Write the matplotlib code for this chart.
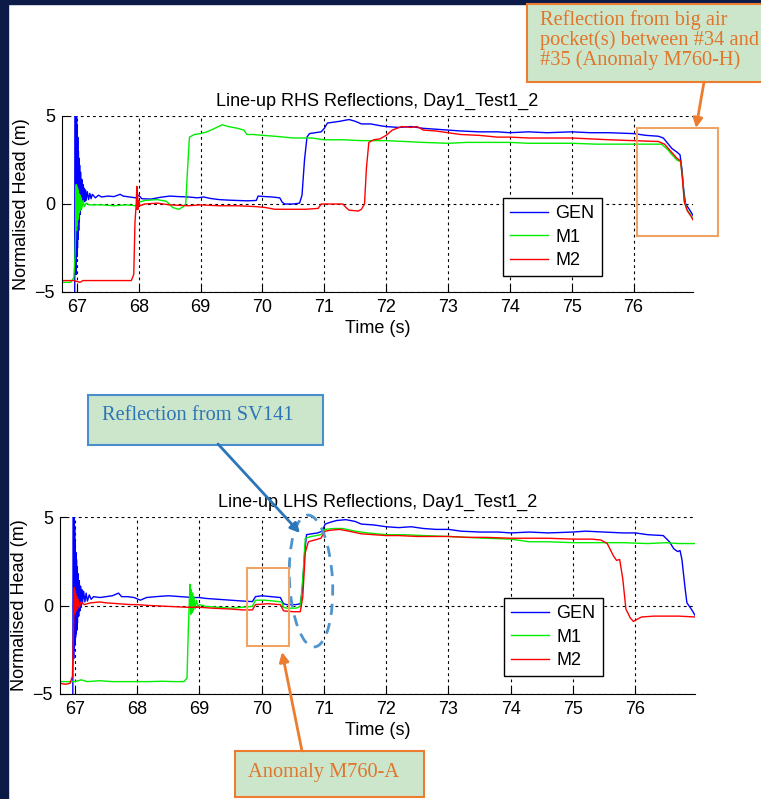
import matplotlib
matplotlib.use("Agg")
import matplotlib.pyplot as plt
from matplotlib.patches import Rectangle, Ellipse

plt.rcParams["font.family"] = ["Liberation Sans", "DejaVu Sans"]

# ---- RHS (top panel) ----
gen_rhs_t = [66.965, 66.975, 66.98, 66.985, 66.99, 66.995, 67.0, 67.005, 67.01, 67.015, 67.02, 67.025,
             67.03, 67.035, 67.04, 67.045, 67.05, 67.06, 67.07, 67.08, 67.09, 67.1, 67.11, 67.12, 67.13,
             67.14, 67.15, 67.17, 67.19, 67.21, 67.23, 67.25, 67.3, 67.35, 67.4, 67.5, 67.6, 67.7, 67.75,
             67.85, 67.95, 68.0, 68.05, 68.2, 68.35, 68.5, 68.65, 68.8, 68.95, 69.05, 69.15, 69.3, 69.45,
             69.6, 69.75, 69.9, 69.93, 70.05, 70.15, 70.28, 70.32, 70.36, 70.5, 70.6, 70.64, 70.68, 70.72,
             70.76, 70.85, 70.95, 71.0, 71.05, 71.15, 71.25, 71.4, 71.5, 71.6, 71.75, 71.9, 72.0, 72.2,
             72.4, 72.6, 72.8, 73.0, 73.2, 73.5, 73.8, 74.0, 74.3, 74.6, 75.0, 75.3, 75.6, 76.0, 76.2,
             76.4, 76.48, 76.55, 76.62, 76.7, 76.75, 76.78, 76.81, 76.84, 76.9, 76.96]
gen_rhs_v = [-6, 5.5, -3.5, 5.5, -4, 5, -3, 4.5, -2.5, 3.8, -2, 3, -1.5, 2.6, -1, 2.2, -0.6, 1.8, -0.3,
             1.4, -0.1, 1.1, 0.1, 0.9, 0.15, 0.8, 0.2, 0.7, 0.25, 0.6, 0.3, 0.55, 0.35, 0.5, 0.4, 0.45,
             0.42, 0.55, 0.45, 0.4, 0.35, 0.5, 0.3, 0.28, 0.38, 0.45, 0.42, 0.4, 0.35, 0.4, 0.32, 0.25,
             0.22, 0.2, 0.18, 0.2, 0.45, 0.42, 0.4, 0.35, 0.1, 0.0, 0.0, 0.05, 0.5, 2.5, 3.8, 4.0, 4.05,
             4.1, 4.3, 4.6, 4.65, 4.7, 4.8, 4.7, 4.55, 4.55, 4.45, 4.4, 4.35, 4.4, 4.3, 4.25, 4.2, 4.15,
             4.1, 4.1, 4.05, 4.1, 4.05, 4.1, 4.05, 4.05, 4.0, 3.9, 3.85, 3.75, 3.45, 3.15, 2.95, 2.8,
             2.0, 0.8, 0.0, -0.3, -0.65]

m1_rhs_t = [66.76, 66.9, 66.95, 66.97, 66.985, 66.99, 66.995, 67.0, 67.005, 67.01, 67.015, 67.02, 67.025,
            67.03, 67.04, 67.05, 67.06, 67.07, 67.08, 67.1, 67.12, 67.15, 67.2, 67.4, 67.6, 67.8, 67.95,
            68.0, 68.1, 68.3, 68.45, 68.55, 68.65, 68.72, 68.76, 68.79, 68.82, 68.9, 69.0, 69.1, 69.2,
            69.35, 69.45, 69.6, 69.7, 69.75, 69.85, 70.0, 70.2, 70.5, 70.8, 71.0, 71.3, 71.6, 72.0, 72.3,
            72.6, 73.0, 73.3, 73.7, 74.0, 74.3, 74.7, 75.0, 75.4, 75.8, 76.0, 76.45, 76.55, 76.62, 76.7,
            76.76, 76.79, 76.82, 76.86, 76.92, 76.96]
m1_rhs_v = [-4.45, -4.45, -4.2, -3.0, -1.0, 1.1, -1.5, 1.0, -1.2, 0.9, -0.9, 0.8, -0.7, 0.6, -0.5, 0.5,
            -0.35, 0.35, -0.25, 0.2, -0.15, 0.05, -0.05, -0.05, -0.1, -0.05, -0.1, 0.1, 0.2, 0.25, 0.15,
            -0.2, -0.3, -0.15, 0.0, 2.0, 3.8, 3.95, 4.0, 4.1, 4.25, 4.5, 4.4, 4.3, 4.2, 3.95, 3.95, 3.9,
            3.85, 3.75, 3.75, 3.65, 3.65, 3.6, 3.6, 3.55, 3.5, 3.45, 3.5, 3.5, 3.5, 3.45, 3.45, 3.45,
            3.4, 3.4, 3.4, 3.4, 3.1, 2.8, 2.5, 2.4, 1.5, 0.2, -0.3, -0.6, -0.85]

m2_rhs_t = [66.76, 66.95, 67.05, 67.1, 67.5, 67.88, 67.92, 67.94, 67.96, 67.97, 67.975, 67.98, 67.99,
            68.0, 68.02, 68.1, 68.3, 68.5, 68.8, 69.0, 69.3, 69.6, 69.9, 70.05, 70.2, 70.5, 70.7, 70.9,
            70.95, 71.1, 71.3, 71.35, 71.4, 71.55, 71.6, 71.65, 71.68, 71.72, 71.8, 71.9, 72.0, 72.1,
            72.25, 72.4, 72.5, 72.6, 72.8, 73.0, 73.2, 73.5, 73.8, 74.0, 74.3, 74.6, 75.0, 75.3, 75.6,
            76.0, 76.4, 76.5, 76.6, 76.7, 76.76, 76.79, 76.82, 76.87, 76.93, 76.96]
m2_rhs_v = [-4.35, -4.35, -4.45, -4.35, -4.35, -4.35, -4.0, -1.0, 0.0, 1.0, -0.3, 0.6, -0.3, 0.2, -0.1,
            0.0, 0.05, -0.05, -0.1, -0.05, -0.1, -0.1, -0.15, -0.2, -0.3, -0.3, -0.3, -0.25, 0.0, 0.0,
            0.0, -0.2, -0.35, -0.4, -0.3, 0.0, 2.0, 3.5, 3.65, 3.7, 3.9, 4.2, 4.4, 4.35, 4.4, 4.2, 4.15,
            4.05, 3.95, 3.9, 3.8, 3.8, 3.75, 3.75, 3.75, 3.7, 3.65, 3.6, 3.55, 3.4, 3.0, 2.6, 2.45, 1.4,
            0.1, -0.4, -0.7, -0.9]

# ---- LHS (bottom panel) ----
gen_lhs_t = [66.965, 66.975, 66.98, 66.985, 66.99, 66.995, 67.0, 67.005, 67.01, 67.015, 67.02, 67.025,
             67.03, 67.035, 67.04, 67.05, 67.06, 67.07, 67.08, 67.09, 67.1, 67.11, 67.12, 67.14, 67.16,
             67.18, 67.2, 67.23, 67.26, 67.3, 67.4, 67.5, 67.6, 67.7, 67.75, 67.85, 67.95, 68.05, 68.15,
             68.3, 68.5, 68.7, 68.9, 69.0, 69.1, 69.3, 69.5, 69.7, 69.85, 69.9, 70.0, 70.15, 70.3, 70.35,
             70.4, 70.55, 70.62, 70.65, 70.69, 70.72, 70.8, 70.9, 70.97, 71.02, 71.1, 71.2, 71.35, 71.5,
             71.6, 71.8, 72.0, 72.2, 72.4, 72.6, 72.8, 73.0, 73.2, 73.5, 73.8, 74.0, 74.3, 74.6, 75.0,
             75.2, 75.5, 75.8, 76.0, 76.2, 76.45, 76.55, 76.62, 76.68, 76.72, 76.75, 76.8, 76.83, 76.9,
             76.96]
gen_lhs_v = [-6, 5.5, -3, 5.2, -2.5, 4.5, -2.2, 3.6, -1.8, 3.0, -1.6, 2.6, -1.4, 2.2, -1.0, 1.8, -0.6,
             1.4, -0.3, 1.1, -0.1, 0.9, 0.1, 0.8, 0.2, 0.7, 0.25, 0.6, 0.35, 0.5, 0.45, 0.5, 0.55, 0.7,
             0.5, 0.5, 0.45, 0.3, 0.45, 0.5, 0.55, 0.5, 0.45, 0.45, 0.4, 0.35, 0.3, 0.25, 0.22, 0.5,
             0.55, 0.5, 0.45, 0.1, 0.05, 0.05, 0.1, 0.8, 3.0, 4.0, 4.05, 4.1, 4.2, 4.6, 4.7, 4.8, 4.85,
             4.75, 4.6, 4.55, 4.45, 4.4, 4.45, 4.35, 4.3, 4.3, 4.2, 4.15, 4.15, 4.1, 4.15, 4.1, 4.15,
             4.2, 4.15, 4.1, 4.1, 4.0, 3.95, 3.6, 3.2, 3.05, 3.1, 2.6, 1.0, 0.15, -0.2, -0.55]

m1_lhs_t = [66.76, 67.0, 67.1, 67.2, 67.4, 67.6, 67.8, 68.0, 68.2, 68.4, 68.6, 68.75, 68.8, 68.82, 68.84,
            68.85, 68.86, 68.87, 68.88, 68.89, 68.9, 68.91, 68.93, 68.95, 68.98, 69.0, 69.1, 69.3, 69.5,
            69.7, 69.85, 69.9, 70.05, 70.2, 70.32, 70.35, 70.4, 70.55, 70.62, 70.66, 70.7, 70.8, 70.95,
            71.02, 71.15, 71.3, 71.5, 71.7, 72.0, 72.3, 72.6, 73.0, 73.3, 73.6, 74.0, 74.3, 74.6, 75.0,
            75.4, 75.8, 76.2, 76.5, 76.7, 76.96]
m1_lhs_v = [-4.3, -4.3, -4.2, -4.3, -4.25, -4.3, -4.3, -4.3, -4.3, -4.28, -4.3, -4.3, -4.1, -1.5, 0.5,
            1.2, -0.5, 0.9, -0.4, 0.7, -0.3, 0.5, -0.2, 0.3, -0.1, 0.05, -0.05, -0.1, -0.15, -0.1, -0.05,
            0.3, 0.3, 0.25, 0.2, -0.1, -0.15, -0.15, -0.05, 1.5, 3.8, 3.9, 4.0, 4.3, 4.35, 4.35, 4.2,
            4.1, 4.0, 4.0, 3.95, 3.9, 3.85, 3.8, 3.75, 3.6, 3.6, 3.55, 3.55, 3.55, 3.5, 3.55, 3.5, 3.5]

m2_lhs_t = [66.76, 66.85, 66.92, 66.96, 66.98, 66.99, 66.995, 67.0, 67.005, 67.01, 67.02, 67.03, 67.04,
            67.05, 67.07, 67.1, 67.15, 67.25, 67.4, 67.5, 67.7, 67.9, 68.0, 68.2, 68.5, 68.8, 69.0, 69.2,
            69.5, 69.7, 69.85, 69.9, 70.1, 70.3, 70.35, 70.5, 70.62, 70.66, 70.7, 70.75, 70.85, 70.95,
            71.02, 71.1, 71.25, 71.4, 71.6, 71.8, 72.0, 72.2, 72.5, 72.8, 73.0, 73.3, 73.6, 74.0, 74.3,
            74.6, 75.0, 75.3, 75.45, 75.55, 75.65, 75.7, 75.75, 75.8, 75.85, 75.92, 75.97, 76.02, 76.1,
            76.3, 76.5, 76.7, 76.96]
m2_lhs_v = [-4.4, -4.45, -4.4, -4.0, -1.0, 1.0, -0.5, 0.8, -0.4, 0.7, -0.3, 0.5, -0.2, 0.35, -0.1, 0.2,
            0.05, 0.15, 0.2, 0.15, 0.1, 0.05, 0.05, 0.0, -0.05, -0.1, -0.1, -0.15, -0.2, -0.25, -0.25,
            0.05, 0.1, 0.05, -0.3, -0.35, -0.35, 0.5, 3.0, 3.6, 3.7, 3.8, 4.2, 4.25, 4.3, 4.2, 4.05,
            4.0, 3.95, 3.95, 3.9, 3.9, 3.9, 3.85, 3.85, 3.8, 3.8, 3.8, 3.75, 3.75, 3.7, 3.5, 2.8, 2.55,
            2.6, 1.5, -0.2, -0.7, -0.9, -0.8, -0.65, -0.6, -0.6, -0.6, -0.65]

x_ticks = [67, 68, 69, 70, 71, 72, 73, 74, 75, 76]
y_ticks = [-5, 0, 5]
series_names = ["GEN", "M1", "M2"]
series_colors = ["#0000ff", "#00ee00", "#ff0000"]

W, H = 761, 799
fig = plt.figure(figsize=(W / 100, H / 100), dpi=100)
fig.patch.set_facecolor("white")
# slide border (navy)
fig.add_artist(Rectangle((0, 0), 8 / W, 1, transform=fig.transFigure, color="#0b1a47", zorder=-5))
fig.add_artist(Rectangle((0, 1 - 4 / H), 1, 4 / H, transform=fig.transFigure, color="#0b1a47", zorder=-5))


def panel(rect, title, data, leg_anchor):
    ax = fig.add_axes(rect)
    for (t, v), name, c in zip(data, series_names, series_colors):
        ax.plot(t, v, color=c, lw=1.0, label=name)
    ax.set_xlim(66.76, 76.96)
    ax.set_ylim(-5, 5)
    ax.set_xticks(x_ticks)
    ax.set_yticks(y_ticks)
    ax.tick_params(direction="in", length=5, labelsize=13, pad=5, width=0.8)
    ax.spines[["top", "right"]].set_visible(False)
    ax.grid(True, color="k", linestyle=(0, (2.5, 3)), lw=0.8)
    ax.set_axisbelow(True)
    ax.set_title(title, fontsize=13, pad=7)
    ax.set_xlabel("Time (s)", fontsize=13, labelpad=3)
    ax.set_ylabel("Normalised Head (m)", fontsize=13, labelpad=3)
    leg = ax.legend(loc="upper left", bbox_to_anchor=leg_anchor, fontsize=13, fancybox=False,
                    framealpha=1, edgecolor="k", borderpad=0.4, handlelength=2.1,
                    handletextpad=0.4, labelspacing=0.35, borderaxespad=0)
    leg.get_frame().set_linewidth(1.0)
    return ax


panel([62 / W, 1 - 292 / H, 631 / W, 176 / H], "Line-up RHS Reflections, Day1_Test1_2",
      [(gen_rhs_t, gen_rhs_v), (m1_rhs_t, m1_rhs_v), (m2_rhs_t, m2_rhs_v)], (0.699, 0.534))
panel([60 / W, 1 - 694 / H, 635 / W, 177 / H], "Line-up LHS Reflections, Day1_Test1_2",
      [(gen_lhs_t, gen_lhs_v), (m1_lhs_t, m1_lhs_v), (m2_lhs_t, m2_lhs_v)], (0.699, 0.542))

# overlay for callouts, in pixel coordinates
ov = fig.add_axes([0, 0, 1, 1], zorder=10)
ov.set_xlim(0, W)
ov.set_ylim(H, 0)
ov.axis("off")

box_face = "#cce6cc"
orange = "#ec7c30"
orange_txt = "#e0762a"
blue = "#2e75b6"
serif = ["Liberation Serif", "DejaVu Serif"]
fs_note = 14.7

# top callout
ov.add_patch(Rectangle((527, 4), 240, 78, facecolor=box_face, edgecolor=orange, lw=1.5, clip_on=False))
ov.text(540, 40, "Reflection from big air\npocket(s) between #34 and\n#35 (Anomaly M760-H)",
        color=orange_txt, fontsize=fs_note, family=serif, va="center", ha="left", linespacing=1.0)
ov.annotate("", xy=(696, 128), xytext=(704, 82),
            arrowprops=dict(arrowstyle="-|>", color=orange, lw=2, mutation_scale=14, shrinkA=0, shrinkB=0))
ov.add_patch(Rectangle((637, 128), 81, 108, facecolor="none", edgecolor="#f0a464", lw=1.5))

# SV141 callout
ov.add_patch(Rectangle((88, 395), 235, 50, facecolor=box_face, edgecolor="#4a8fcc", lw=1.5))
ov.text(102, 416, "Reflection from SV141", color=blue, fontsize=fs_note, family=serif,
        va="center", ha="left")
ov.annotate("", xy=(300, 533), xytext=(218, 444),
            arrowprops=dict(arrowstyle="-|>", color="#2a76b8", lw=2, mutation_scale=14, shrinkA=0, shrinkB=0))
ov.add_patch(Ellipse((311, 581), 43, 132, angle=-3, facecolor="none", edgecolor="#4f94cd",
                     lw=2, linestyle=(0, (4, 3))))

# Anomaly M760-A callout
ov.add_patch(Rectangle((247, 568), 42, 78, facecolor="none", edgecolor="#f0a464", lw=1.5))
ov.annotate("", xy=(282, 652), xytext=(302, 751),
            arrowprops=dict(arrowstyle="-|>", color=orange, lw=2, mutation_scale=14, shrinkA=0, shrinkB=0))
ov.add_patch(Rectangle((235, 751), 189, 46, facecolor=box_face, edgecolor=orange, lw=1.5))
ov.text(248, 772, "Anomaly M760-A", color=orange_txt, fontsize=fs_note, family=serif,
        va="center", ha="left")

fig.savefig("out.png", dpi=100)
